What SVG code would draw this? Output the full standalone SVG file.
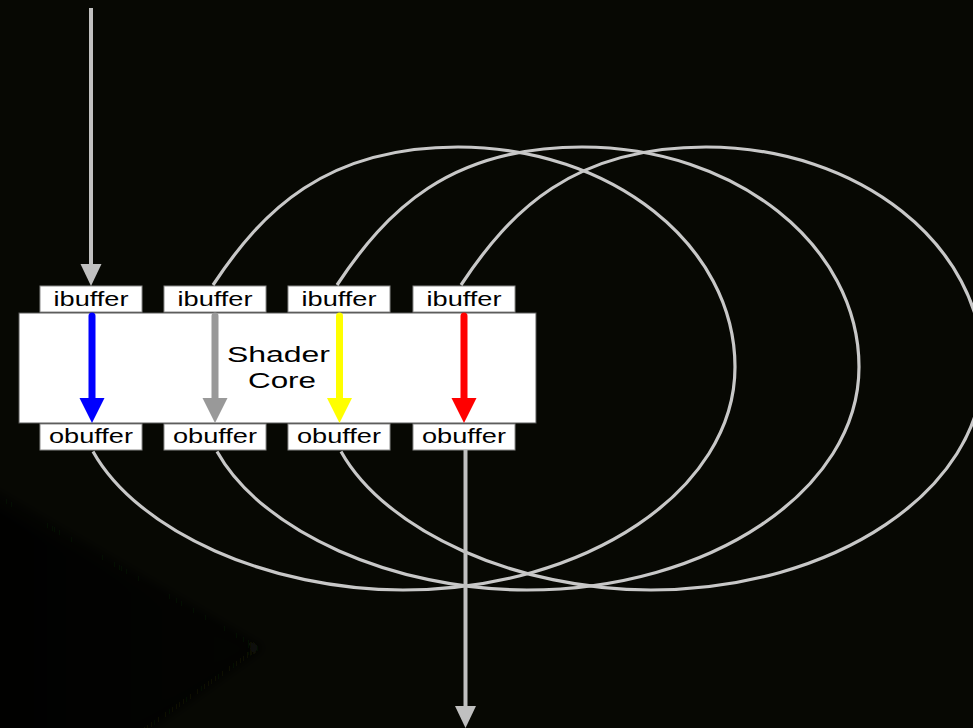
<svg xmlns="http://www.w3.org/2000/svg" width="973" height="728" viewBox="0 0 973 728">
  <defs>
    <style>
      .bg { fill: #070803; }
      .loop { fill: none; stroke: #c8c8c8; stroke-width: 3.2; }
      .io { fill: none; stroke: #c0c0c0; stroke-width: 4; }
      .io-head { fill: #c0c0c0; }
      .lbl rect { fill: #ffffff; stroke: #8a8a8a; stroke-width: 1; }
      .lbl text, .core text { font-family: "Liberation Sans", Arial, Helvetica, sans-serif; fill: #000000; text-anchor: middle; }
      .lbl text { font-size: 19.5px; }
      .core rect { fill: #ffffff; stroke: #5a5a5a; stroke-width: 1; }
      .core text { font-size: 22px; }
      .flow { fill: none; stroke-width: 7; stroke-linecap: round; }
    </style>
    <filter id="soft" x="-20%" y="-20%" width="140%" height="140%">
      <feGaussianBlur stdDeviation="5"/>
    </filter>
    <linearGradient id="shade" x1="0" y1="0" x2="1" y2="0">
      <stop offset="0" stop-color="#000000" stop-opacity="0.9"/>
      <stop offset="1" stop-color="#000000" stop-opacity="0.5"/>
    </linearGradient>
    <!-- one feedback loop: from below an obuffer, round the right, back into the next ibuffer -->
    <path id="loop" d="M213,285 C262,211 325,147 458,147 C611,147 735,245 735,367 C735,490 586,590 403,590 C270,590 138,532 93,451.5"/>
    <path id="headL" d="M-12.5,0 H12.5 L0,25 Z"/>
    <path id="headS" d="M-10.5,0 H10.5 L0,22 Z"/>
  </defs>

  <!-- backdrop -->
  <rect class="bg" x="0" y="0" width="973" height="728"/>
  <g filter="url(#soft)">
    <polygon points="-10,500 256,650 132,738 -10,738" fill="url(#shade)"/>
    <polyline points="-10,492 258,648 130,740" fill="none" stroke="#0f110a" stroke-width="5"/>
  </g>

  <!-- shader core -->
  <g id="shader-core" class="core">
    <rect x="19" y="313" width="517" height="110"/>
    <text x="278.5" y="362" textLength="103" lengthAdjust="spacingAndGlyphs">Shader</text>
    <text x="282" y="388" textLength="68" lengthAdjust="spacingAndGlyphs">Core</text>
  </g>

  <!-- input buffers -->
  <g id="ibuffer1" class="lbl">
    <rect x="40" y="286" width="102" height="26"/>
    <text x="91" y="306" textLength="75" lengthAdjust="spacingAndGlyphs">ibuffer</text>
  </g>
  <g id="ibuffer2" class="lbl">
    <rect x="164" y="286" width="102" height="26"/>
    <text x="215" y="306" textLength="75" lengthAdjust="spacingAndGlyphs">ibuffer</text>
  </g>
  <g id="ibuffer3" class="lbl">
    <rect x="288" y="286" width="102" height="26"/>
    <text x="339" y="306" textLength="75" lengthAdjust="spacingAndGlyphs">ibuffer</text>
  </g>
  <g id="ibuffer4" class="lbl">
    <rect x="413" y="286" width="102" height="26"/>
    <text x="464" y="306" textLength="75" lengthAdjust="spacingAndGlyphs">ibuffer</text>
  </g>

  <!-- output buffers -->
  <g id="obuffer1" class="lbl">
    <rect x="40" y="424" width="102" height="26"/>
    <text x="91" y="443" textLength="84" lengthAdjust="spacingAndGlyphs">obuffer</text>
  </g>
  <g id="obuffer2" class="lbl">
    <rect x="164" y="424" width="102" height="26"/>
    <text x="215" y="443" textLength="84" lengthAdjust="spacingAndGlyphs">obuffer</text>
  </g>
  <g id="obuffer3" class="lbl">
    <rect x="288" y="424" width="102" height="26"/>
    <text x="339" y="443" textLength="84" lengthAdjust="spacingAndGlyphs">obuffer</text>
  </g>
  <g id="obuffer4" class="lbl">
    <rect x="413" y="424" width="102" height="26"/>
    <text x="464" y="443" textLength="84" lengthAdjust="spacingAndGlyphs">obuffer</text>
  </g>

  <!-- connectors -->
  <g id="connectors">
    <!-- feedback loops obuffer(n) -> ibuffer(n+1) -->
    <use href="#loop" class="loop"/>
    <use href="#loop" class="loop" transform="translate(124,0)"/>
    <use href="#loop" class="loop" transform="translate(248,0)"/>

    <!-- stream in -->
    <line class="io" x1="91" y1="8" x2="91" y2="266"/>
    <use href="#headS" class="io-head" x="91" y="264"/>

    <!-- stream out -->
    <line class="io" x1="465.5" y1="450" x2="465.5" y2="708"/>
    <use href="#headS" class="io-head" x="465.5" y="706"/>

    <!-- per-lane flow through the core -->
    <line class="flow" stroke="#0000ff" x1="92" y1="316" x2="92" y2="400"/>
    <use href="#headL" fill="#0000ff" x="92" y="398"/>
    <line class="flow" stroke="#999999" x1="215" y1="316" x2="215" y2="400"/>
    <use href="#headL" fill="#999999" x="215" y="398"/>
    <line class="flow" stroke="#ffff00" x1="339.5" y1="316" x2="339.5" y2="400"/>
    <use href="#headL" fill="#ffff00" x="339.5" y="398"/>
    <line class="flow" stroke="#ff0000" x1="464" y1="316" x2="464" y2="400"/>
    <use href="#headL" fill="#ff0000" x="464" y="398"/>
  </g>
</svg>
